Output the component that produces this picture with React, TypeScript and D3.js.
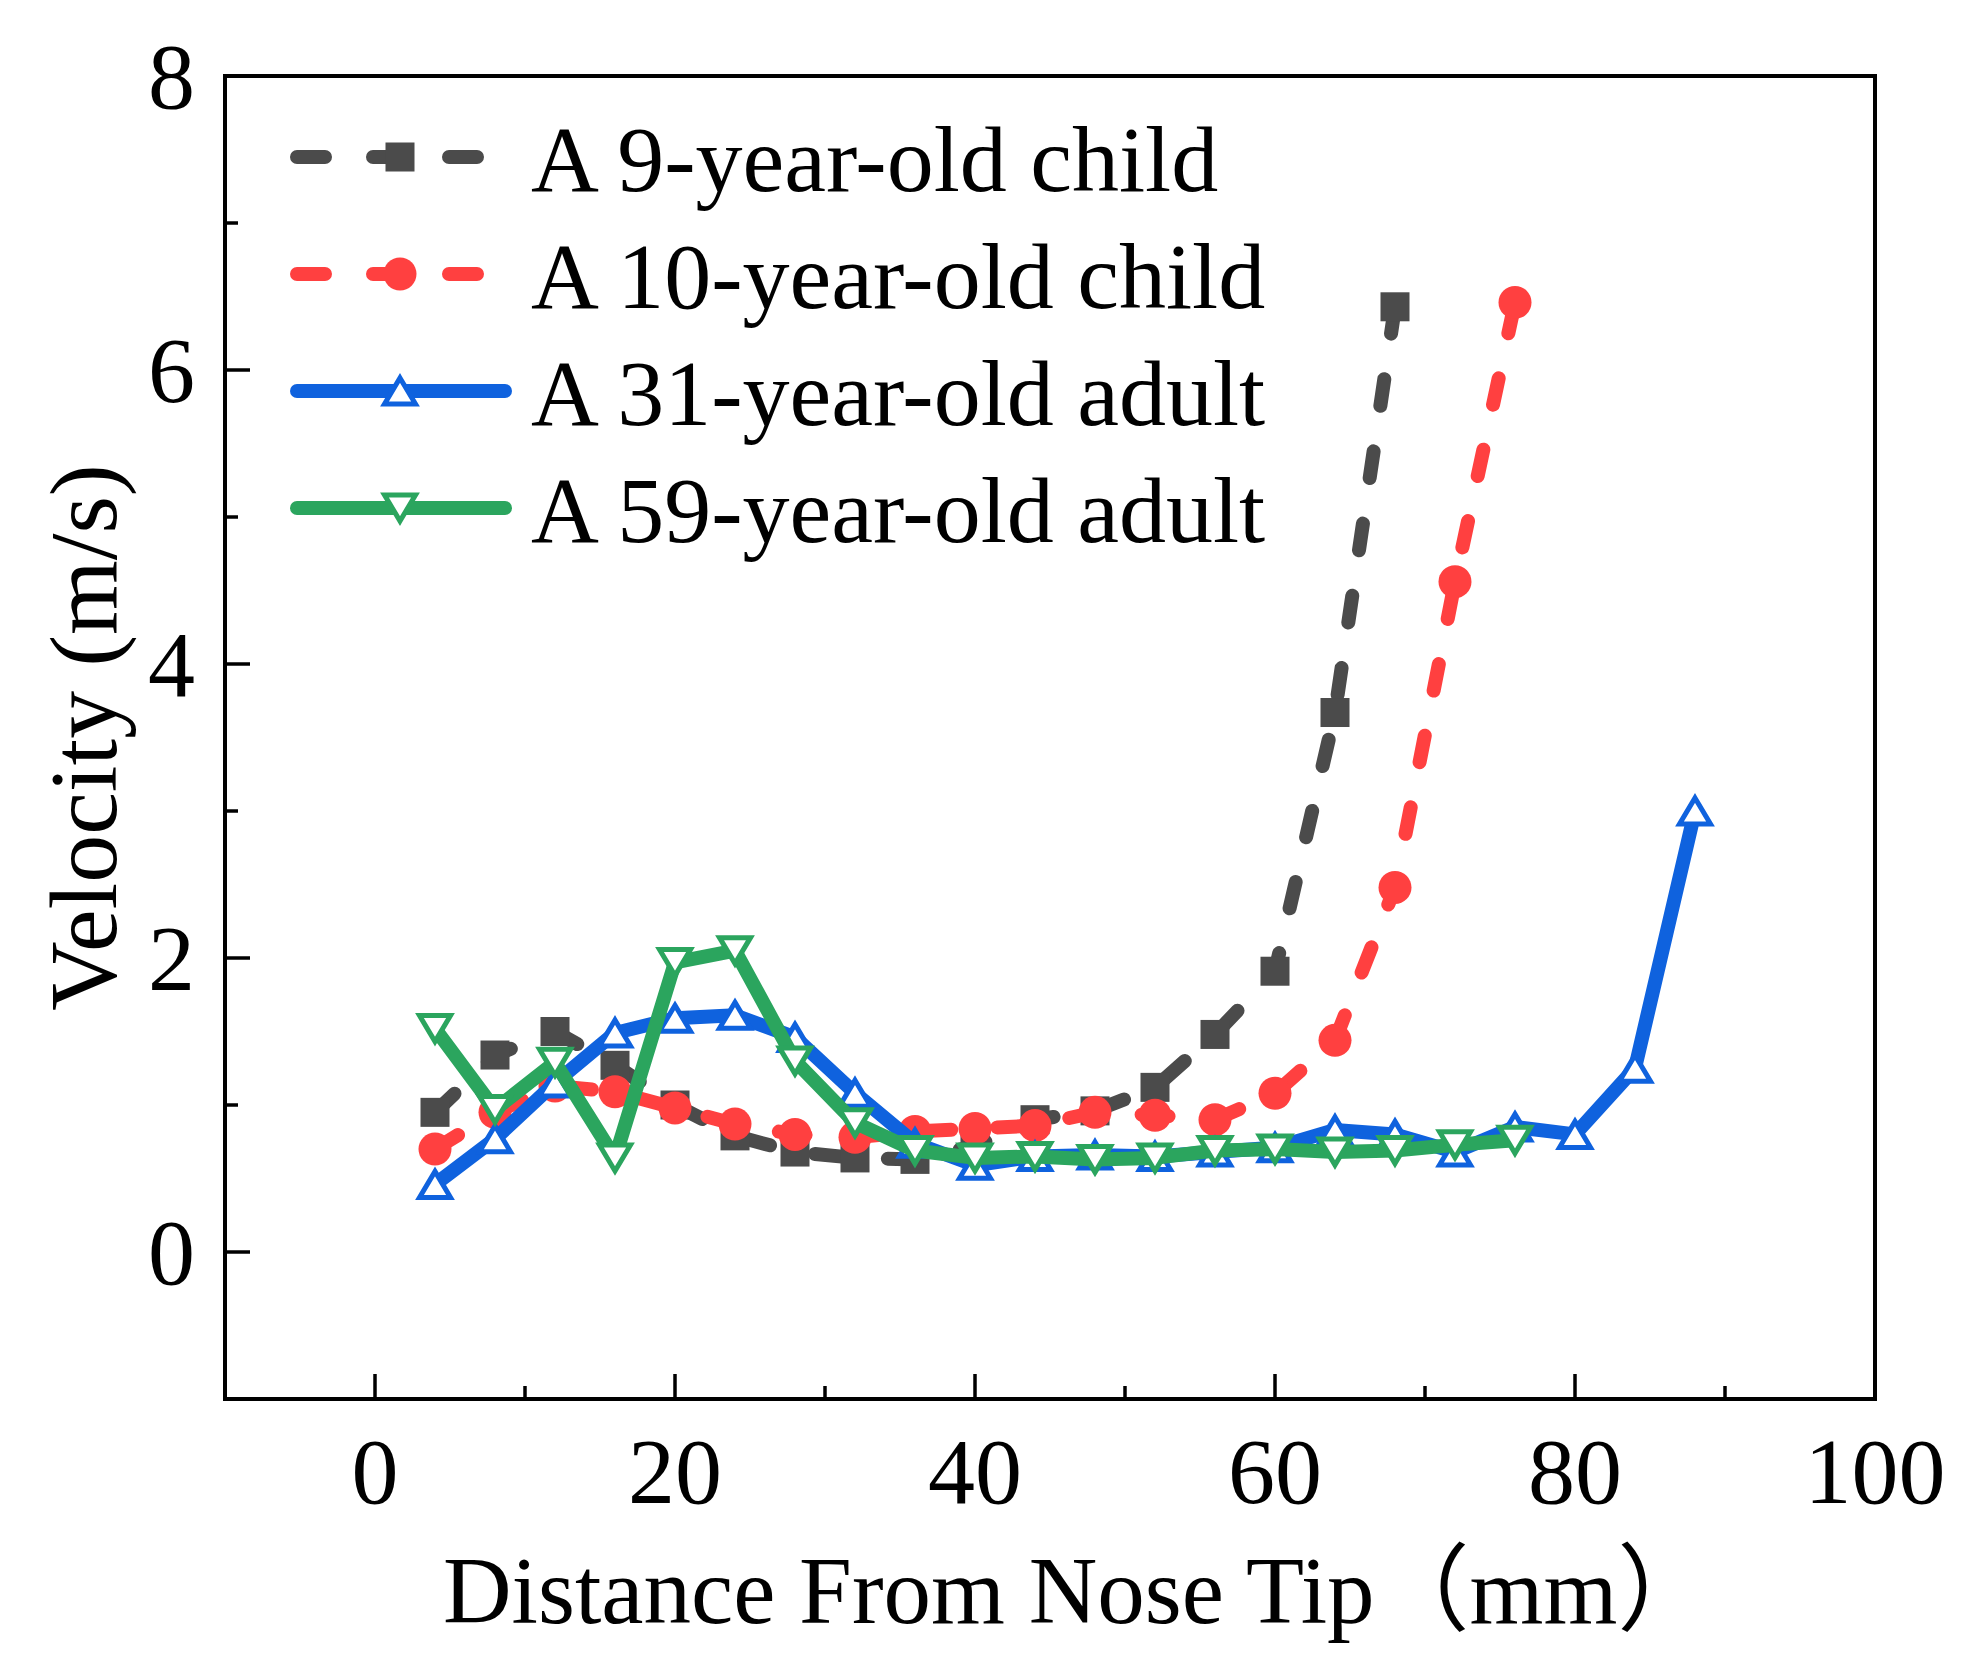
import * as d3 from "d3";

const W = 1973;
const H = 1667;

// distances sampled every 4 mm
const xChild9 = d3.range(4, 69, 4);
const xChild10 = d3.range(4, 77, 4);
const xAdult31 = d3.range(4, 89, 4);
const xAdult59 = d3.range(4, 77, 4);

const vChild9 = [0.95, 1.34, 1.5, 1.27, 1.0, 0.79, 0.68, 0.64, 0.63, 0.72, 0.9, 0.96, 1.12, 1.48, 1.91, 3.67, 6.43];
const vChild10 = [0.7, 0.95, 1.13, 1.09, 0.98, 0.87, 0.8, 0.78, 0.82, 0.84, 0.86, 0.95, 0.93, 0.9, 1.08, 1.44, 2.48, 4.56, 6.46];
const vAdult31 = [0.46, 0.77, 1.15, 1.49, 1.59, 1.61, 1.46, 1.08, 0.74, 0.59, 0.65, 0.66, 0.65, 0.68, 0.71, 0.83, 0.8, 0.68, 0.85, 0.8, 1.25, 3.0];
const vAdult59 = [1.52, 0.97, 1.29, 0.64, 1.97, 2.05, 1.3, 0.88, 0.69, 0.64, 0.65, 0.63, 0.64, 0.69, 0.7, 0.68, 0.69, 0.73, 0.76];

const labels = ["A 9-year-old child", "A 10-year-old child", "A 31-year-old adult", "A 59-year-old adult"];

const xMajor = [0, 20, 40, 60, 80, 100];
const xMinor = [10, 30, 50, 70, 90];
const yMajor = [0, 2, 4, 6, 8];
const yMinor = [1, 3, 5, 7];

type Marker = "square" | "circle" | "up" | "down";

const series = [
  { label: labels[0], xs: xChild9, ys: vChild9, color: "#4b4b4b", dashed: true, marker: "square" as Marker },
  { label: labels[1], xs: xChild10, ys: vChild10, color: "#ff4040", dashed: true, marker: "circle" as Marker },
  { label: labels[2], xs: xAdult31, ys: vAdult31, color: "#0f62de", dashed: false, marker: "up" as Marker },
  { label: labels[3], xs: xAdult59, ys: vAdult59, color: "#2ba55e", dashed: false, marker: "down" as Marker },
];

const FONT = "'Liberation Serif', 'Times New Roman', 'Noto Sans CJK SC', serif";

function MarkerShape({ kind, x, y, color }: { kind: Marker; x: number; y: number; color: string }) {
  if (kind === "square") {
    return <rect x={x - 14.5} y={y - 14.5} width={29} height={29} fill={color} />;
  }
  if (kind === "circle") {
    return <circle cx={x} cy={y} r={16.5} fill={color} />;
  }
  const hw = 15.5;
  const hh = 13;
  const s = kind === "up" ? 1 : -1;
  const d = `M${x},${y - s * hh}L${x + hw},${y + s * hh}L${x - hw},${y + s * hh}Z`;
  return <path d={d} fill="#fff" stroke={color} strokeWidth={5} strokeLinejoin="miter" />;
}

export default function App() {
  const margin = { left: 225, right: W - 1875, top: 76, bottom: H - 1399 };
  const x = d3.scaleLinear().domain([-10, 100]).range([margin.left, W - margin.right]);
  const y = d3.scaleLinear().domain([-1, 8]).range([H - margin.bottom, margin.top]);
  const [x0, x1] = x.range();
  const [y0, y1] = y.range();

  const line = d3
    .line<[number, number]>()
    .x((d) => x(d[0]))
    .y((d) => y(d[1]));

  return (
    <div style={{ position: "absolute", left: 0, top: 0 }}>
      <svg width={W} height={H} style={{ display: "block", background: "#fff" }} fontFamily={FONT}>
        {/* ticks, pointing inward */}
        {xMajor.map((t) => (
          <line key={`xm${t}`} x1={x(t)} x2={x(t)} y1={y0} y2={y0 - 25} stroke="#000" strokeWidth={3.5} />
        ))}
        {xMinor.map((t) => (
          <line key={`xn${t}`} x1={x(t)} x2={x(t)} y1={y0} y2={y0 - 13} stroke="#000" strokeWidth={3.5} />
        ))}
        {yMajor.map((t) => (
          <line key={`ym${t}`} x1={x0} x2={x0 + 25} y1={y(t)} y2={y(t)} stroke="#000" strokeWidth={3.5} />
        ))}
        {yMinor.map((t) => (
          <line key={`yn${t}`} x1={x0} x2={x0 + 13} y1={y(t)} y2={y(t)} stroke="#000" strokeWidth={3.5} />
        ))}

        {xMajor.map((t) => (
          <text key={`xl${t}`} x={x(t)} y={1503} textAnchor="middle" fontSize={94} fill="#000">
            {t}
          </text>
        ))}
        {yMajor.map((t) => (
          <text key={`yl${t}`} x={x0 - 30} y={y(t)} dy="0.34em" textAnchor="end" fontSize={94} fill="#000">
            {t}
          </text>
        ))}

        <text x={443} y={1623} fontSize={95} fill="#000">
          Distance From Nose Tip（mm）
        </text>
        <text
          transform={`translate(116,${(y0 + y1) / 2}) rotate(-90)`}
          textAnchor="middle"
          fontSize={96}
          fill="#000"
        >
          Velocity (m/s)
        </text>

        {/* series */}
        {series.map((s) => (
          <g key={s.label}>
            <path
              d={line(s.xs.map((v, i) => [v, s.ys[i]] as [number, number])) ?? ""}
              fill="none"
              stroke={s.color}
              strokeWidth={14}
              strokeLinejoin="round"
              strokeLinecap="round"
              strokeDasharray={s.dashed ? "27 46" : undefined}
            />
            {s.xs.map((v, i) => (
              <MarkerShape key={i} kind={s.marker} x={x(v)} y={y(s.ys[i])} color={s.color} />
            ))}
          </g>
        ))}

        {/* legend */}
        {series.map((s, i) => {
          const cy = 157 + i * 117;
          return (
            <g key={`lg${s.label}`}>
              {s.dashed ? (
                <line x1={297} x2={477} y1={cy} y2={cy} stroke={s.color} strokeWidth={14} strokeLinecap="round" strokeDasharray="28 48" />
              ) : (
                <line x1={297} x2={505} y1={cy} y2={cy} stroke={s.color} strokeWidth={14} strokeLinecap="round" />
              )}
              <MarkerShape kind={s.marker} x={400} y={cy} color={s.color} />
              <text x={531} y={cy + 34} fontSize={94} fill="#000">
                {s.label}
              </text>
            </g>
          );
        })}

        <rect x={x0} y={y1} width={x1 - x0} height={y0 - y1} fill="none" stroke="#000" strokeWidth={4} />
      </svg>
    </div>
  );
}
